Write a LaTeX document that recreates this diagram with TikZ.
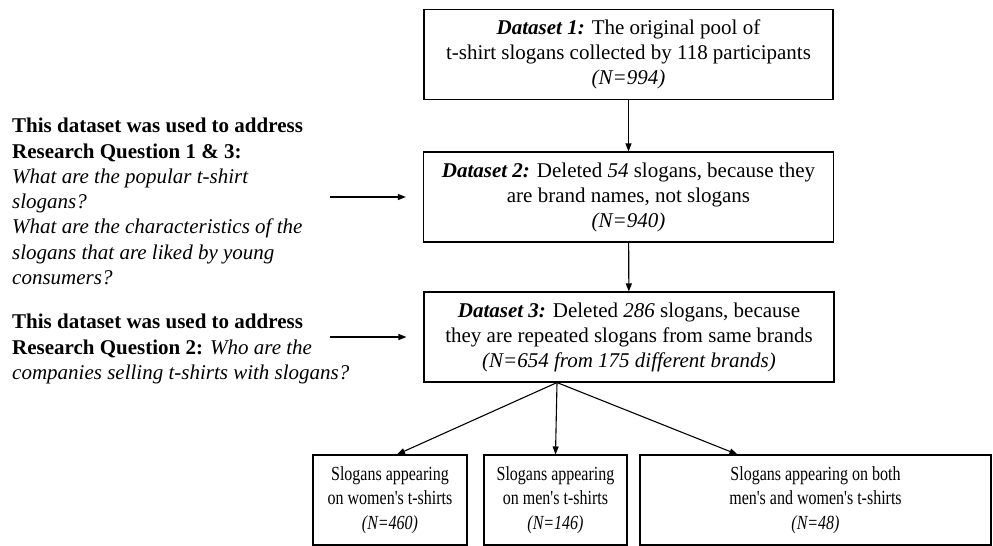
\documentclass[tikz,border=0pt]{standalone}
\usepackage{fontspec}
\setmainfont{Liberation Serif}
\newfontfamily\narrowserif[FakeStretch=0.8]{Liberation Serif}
\usetikzlibrary{arrows.meta}

\tikzset{
  set_box/.style={draw, line width=1.1pt, align=center, inner sep=2pt,
    minimum height=90pt, font=\fontsize{21}{25}\selectfont},
  sub_box/.style={set_box, font=\narrowserif\fontsize{20}{24.5}\selectfont},
  rq_note/.style={align=left, inner sep=0pt, anchor=west,
    font=\fontsize{21}{25.3}\selectfont},
}

\begin{document}
\begin{tikzpicture}[
  x=1pt, y=-1pt,
  flow arrow/.style={-{Triangle[length=8pt,width=6pt]}, line width=1.1pt},
  ]
  \useasboundingbox (0,0) rectangle (993,546);

  % the three datasets
  \node[set_box, minimum width=409pt] (ds1) at (628.5,54.5)
    {\textbf{\textit{Dataset 1:}} The original pool of\\
     t-shirt slogans collected by 118 participants\\
     \textit{(N=994)}};
  \node[set_box, minimum width=410pt] (ds2) at (628.5,197)
    {\textbf{\textit{Dataset 2:}} Deleted \textit{54} slogans, because they\\
     are brand names, not slogans\\
     \textit{(N=940)}};
  \node[set_box, minimum width=410pt] (ds3) at (629,337)
    {\textbf{\textit{Dataset 3:}} Deleted \textit{286} slogans, because\\
     they are repeated slogans from same brands\\
     \textit{(N=654 from 175 different brands)}};

  % split by gender
  \node[sub_box, minimum width=154pt] (women) at (390,500)
    {Slogans appearing\\ on women's t-shirts\\ \textit{(N=460)}};
  \node[sub_box, minimum width=143pt] (men) at (555.5,500)
    {Slogans appearing\\ on men's t-shirts\\ \textit{(N=146)}};
  \node[sub_box, minimum width=351pt] (both) at (815.5,500)
    {Slogans appearing on both\\ men's and women's t-shirts\\ \textit{(N=48)}};

  % research questions
  \node[rq_note] (rq13) at (12,201.5)
    {\textbf{This dataset was used to address}\\
     \textbf{Research Question 1 \& 3:}\\
     \textit{What are the popular t-shirt}\\
     \textit{slogans?}\\
     \textit{What are the characteristics of the}\\
     \textit{slogans that are liked by young}\\
     \textit{consumers?}};
  \node[rq_note] (rq2) at (12,349)
    {\textbf{This dataset was used to address}\\
     \textbf{Research Question 2:} \textit{Who are the}\\
     \textit{companies selling t-shirts with slogans?}};

  \coordinate (rq13_tip) at (330,197);
  \coordinate (rq2_tip) at (330,337);
  \coordinate (fan) at ([xshift=-72pt]ds3.south);

  \draw[flow arrow] (ds1) -- (ds2);
  \draw[flow arrow] (ds2) -- (ds3);
  \draw[flow arrow] (rq13_tip) -- ([xshift=-17pt]ds2.west);
  \draw[flow arrow] (rq2_tip) -- ([xshift=-17pt]ds3.west);

  \foreach \Target/\Shift in {women/7, men/0} {
    \draw[flow arrow] (fan) -- ([xshift=\Shift pt]\Target.north);
  }
  \draw[flow arrow] (fan) -- ([xshift=98pt]both.north west);

\end{tikzpicture}
\end{document}
